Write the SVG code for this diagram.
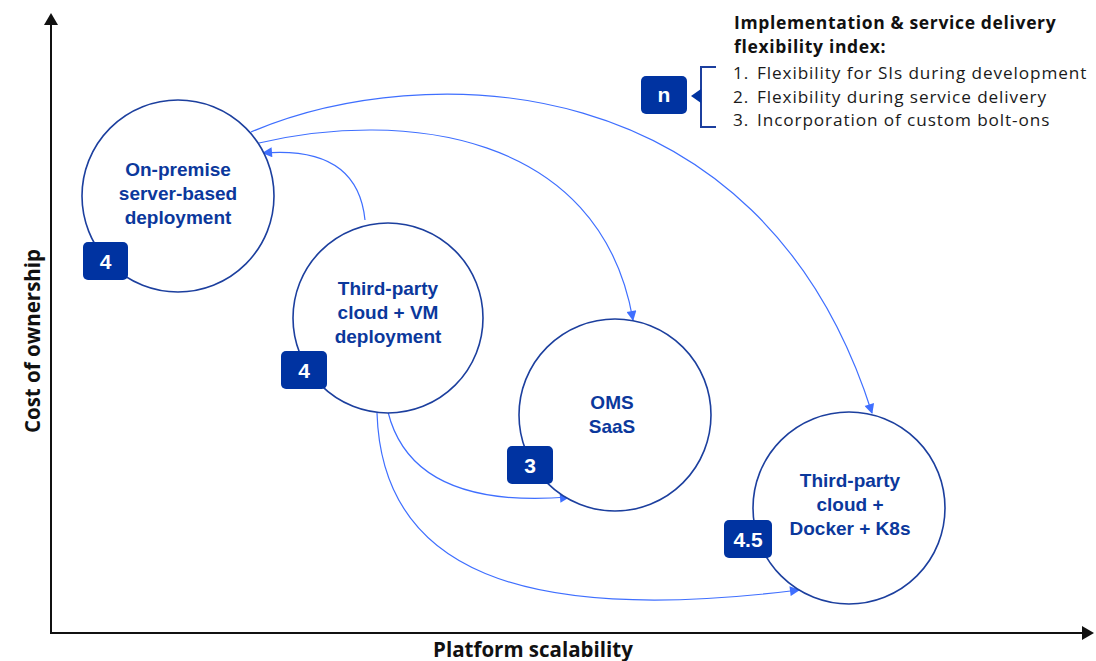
<svg xmlns="http://www.w3.org/2000/svg" width="1096" height="661" viewBox="0 0 1096 661">
<style>
  .node { fill: #ffffff; stroke: #1c3f9e; stroke-width: 1.6; }
  .lbl { font-family: "Liberation Sans", Arial, sans-serif; font-weight: bold; font-size: 19px; fill: #0b389c; text-anchor: middle; }
  .badge { fill: #0033a1; }
  .btxt { font-family: "Liberation Sans", Arial, sans-serif; font-weight: bold; font-size: 21px; fill: #ffffff; text-anchor: middle; }
  .conn { fill: none; stroke: #3f6fff; stroke-width: 1.2; marker-end: url(#ah); }
  .axis { stroke: #111111; stroke-width: 2; fill: none; }
  .axlbl { font-family: "Open Sans", "Liberation Sans", sans-serif; font-weight: bold; font-size: 20.5px; fill: #111111; text-anchor: middle; }
  .leg { font-family: "Open Sans", "Liberation Sans", sans-serif; font-size: 17.2px; letter-spacing: 0.9px; fill: #1a1a1a; }
  .legb { font-family: "Open Sans", "Liberation Sans", sans-serif; font-size: 17.5px; letter-spacing: 0.65px; font-weight: bold; fill: #111111; }
</style>
<defs>
  <marker id="ah" viewBox="0 0 10 10" refX="9" refY="5" markerWidth="12" markerHeight="10" markerUnits="userSpaceOnUse" orient="auto">
    <path d="M0,0 L10,5 L0,10 Z" fill="#3f6fff"/>
  </marker>
</defs>
<rect x="0" y="0" width="1096" height="661" fill="#ffffff"/>

<g id="axes">
  <line class="axis" x1="51" y1="22" x2="51" y2="633"/>
  <line class="axis" x1="50" y1="633" x2="1084" y2="633"/>
  <path d="M51,13 L58,25 L44,25 Z" fill="#111111"/>
  <path d="M1094,633 L1082,626 L1082,640 Z" fill="#111111"/>
  <text class="axlbl" x="533" y="657">Platform scalability</text>
  <text class="axlbl" transform="translate(40,341) rotate(-90)" x="0" y="0">Cost of ownership</text>
</g>

<g id="connectors">
  <path class="conn" d="M251,132 C420,60 760,60 872,413"/>
  <path class="conn" d="M259,143 C400,110 600,130 633,320"/>
  <path class="conn" d="M365,220 C360,170 325,148 263,153"/>
  <path class="conn" d="M388,412 C405,480 470,505 569,497"/>
  <path class="conn" d="M377,413 C382,570 520,625 799,590"/>
</g>

<g id="node-onpremise">
  <circle class="node" cx="178" cy="196" r="96"/>
  <text class="lbl" x="178" y="176">On-premise<tspan x="178" dy="24">server-based</tspan><tspan x="178" dy="24">deployment</tspan></text>
  <rect class="badge" x="83" y="242" width="45" height="38" rx="5"/>
  <text class="btxt" x="105.5" y="269">4</text>
</g>

<g id="node-vm">
  <circle class="node" cx="388" cy="318" r="95"/>
  <text class="lbl" x="388" y="295">Third-party<tspan x="388" dy="24">cloud + VM</tspan><tspan x="388" dy="24">deployment</tspan></text>
  <rect class="badge" x="281" y="351" width="46" height="38" rx="5"/>
  <text class="btxt" x="304" y="378">4</text>
</g>

<g id="node-oms">
  <circle class="node" cx="615" cy="415" r="96"/>
  <text class="lbl" x="612" y="409">OMS<tspan x="612" dy="24">SaaS</tspan></text>
  <rect class="badge" x="507" y="446" width="46" height="38" rx="5"/>
  <text class="btxt" x="530" y="473">3</text>
</g>

<g id="node-docker">
  <circle class="node" cx="849" cy="508" r="96"/>
  <text class="lbl" x="850" y="487">Third-party<tspan x="850" dy="24">cloud +</tspan><tspan x="850" dy="24">Docker + K8s</tspan></text>
  <rect class="badge" x="724" y="520" width="48" height="38" rx="5"/>
  <text class="btxt" x="748" y="547">4.5</text>
</g>

<g id="legend">
  <text class="legb" x="734" y="29">Implementation &amp; service delivery</text>
  <text class="legb" x="734" y="53">flexibility index:</text>
  <text class="leg" x="733" y="79">1.<tspan x="757">Flexibility for SIs during development</tspan></text>
  <text class="leg" x="733" y="102.5">2.<tspan x="757">Flexibility during service delivery</tspan></text>
  <text class="leg" x="733" y="126">3.<tspan x="757">Incorporation of custom bolt-ons</tspan></text>
  <path d="M716,67 L701,67 L701,127 L716,127" fill="none" stroke="#1c3f9e" stroke-width="2"/>
  <path d="M691,96 L701,89 L701,103 Z" fill="#0033a1"/>
  <rect class="badge" x="641" y="76" width="46" height="38" rx="5"/>
  <text class="btxt" x="664" y="102" font-size="23">n</text>
</g>
</svg>
